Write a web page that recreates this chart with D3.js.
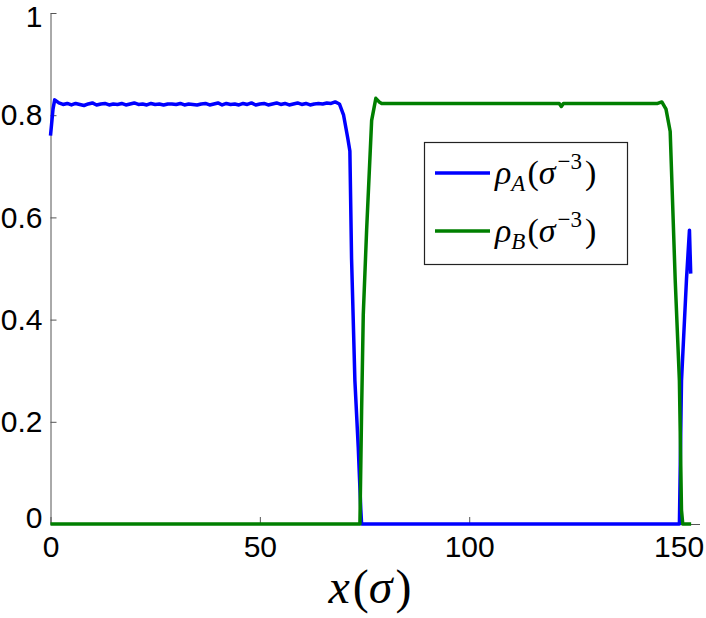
<!DOCTYPE html>
<meta charset="utf-8">
<style>
    body { margin: 0; background: #fff; }
    .tick text { font-family: "Liberation Sans", Arial, sans-serif; font-size: 30px; fill: #000; }
    .math { font-family: "Liberation Serif", "DejaVu Serif", serif; fill: #000; }
</style>
<svg width="706" height="618"></svg>
<script src="https://d3js.org/d3.v7.min.js"></script>
<script>

    var plateauA = [0.824, 0.821, 0.823, 0.820, 0.823, 0.821, 0.819, 0.822, 0.824, 0.820,
        0.822, 0.823, 0.820, 0.822, 0.821, 0.823, 0.820, 0.822, 0.824, 0.821,
        0.822, 0.820, 0.823, 0.821, 0.822, 0.820, 0.822, 0.822, 0.821, 0.823,
        0.820, 0.822, 0.821, 0.820, 0.822, 0.823, 0.820, 0.822, 0.824, 0.820,
        0.823, 0.821, 0.822, 0.820, 0.823, 0.821, 0.824, 0.820, 0.822, 0.823,
        0.820, 0.822, 0.824, 0.821, 0.823, 0.820, 0.822, 0.824, 0.821, 0.823,
        0.820, 0.822, 0.823, 0.822, 0.824, 0.823, 0.826];
    var rhoAx = [0, 0.6, 1].concat(d3.range(2, 69)).concat(
        [69, 70, 71, 71.5, 71.9, 72.7, 73.5, 74.1, 74.3, 150.2, 150.7, 151.9, 152.6, 152.9]);
    var rhoAy = [0.76, 0.812, 0.83].concat(plateauA).concat(
        [0.822, 0.80, 0.755, 0.73, 0.52, 0.28, 0.15, 0.03, 0, 0, 0.28, 0.48, 0.575, 0.49]);

    // rho_B(x)
    var rhoBx = [0, 73.9, 74.3, 74.7, 75.5, 76.7, 77.7, 78.5, 79.1, 121.5, 122, 122.5,
        145, 146, 147, 148, 149.2, 150.2, 150.7, 151, 153];
    var rhoBy = [0, 0, 0.22, 0.41, 0.575, 0.79, 0.833, 0.826, 0.823, 0.823, 0.817, 0.823,
        0.823, 0.826, 0.812, 0.768, 0.477, 0.28, 0.027, 0, 0];

    var xTicks = [0, 50, 100, 150];
    var yTicks = [0, 0.2, 0.4, 0.6, 0.8, 1];
    var legendLabels = ["A", "B"];
    var colors = ["#0000ff", "#007f00"];

    var svg = d3.select("svg");

    var x = d3.scaleLinear().domain([0, 155]).range([50.5, 699.5]);
    var y = d3.scaleLinear().domain([0, 1]).range([524, 13]);

    var xAxis = svg.append("g")
        .attr("transform", "translate(0,524)")
        .call(d3.axisBottom(x).tickValues(xTicks).tickFormat(d3.format("d"))
            .tickSizeInner(-7).tickSizeOuter(0).tickPadding(12));
    xAxis.selectAll("text").attr("dy", "0.71em");

    var yAxis = svg.append("g")
        .attr("transform", "translate(50.5,0)")
        .call(d3.axisLeft(y).tickValues(yTicks).tickFormat(function (d) { return d === 0 || d === 1 ? d : d.toFixed(1); })
            .tickSizeInner(-6).tickSizeOuter(0).tickPadding(8));

    svg.selectAll(".domain").attr("stroke", "#555");
    svg.selectAll(".tick line").attr("stroke", "#555");
    yAxis.selectAll(".tick text").filter(function (d) { return d === 0; }).attr("dy", "0.1em");
    yAxis.selectAll(".tick text").filter(function (d) { return d === 1; }).attr("dy", "0.45em");

    var line = d3.line().x(function (d) { return x(d[0]); }).y(function (d) { return y(d[1]); });

    var series = [d3.zip(rhoAx, rhoAy), d3.zip(rhoBx, rhoBy)];
    svg.selectAll(".series").data(series).enter().append("path")
        .attr("class", "series")
        .attr("fill", "none")
        .attr("stroke", function (d, i) { return colors[i]; })
        .attr("stroke-width", 3.5)
        .attr("stroke-linejoin", "round")
        .attr("d", line);

    // legend
    var legend = svg.append("g");
    legend.append("rect")
        .attr("x", 424.5).attr("y", 142.5).attr("width", 203).attr("height", 122)
        .attr("fill", "#fff").attr("stroke", "#222").attr("stroke-width", 1.2);

    var entry = legend.selectAll(".entry").data(legendLabels).enter().append("g")
        .attr("transform", function (d, i) { return "translate(0," + (173 + i * 58) + ")"; });
    entry.append("line")
        .attr("x1", 435).attr("x2", 490)
        .attr("stroke", function (d, i) { return colors[i]; })
        .attr("stroke-width", 3.5);
    var lt = entry.append("text").attr("class", "math").attr("x", 495).attr("y", 11)
        .style("font-size", "34px");
    lt.append("tspan").style("font-style", "italic").text("ρ");
    lt.append("tspan").style("font-style", "italic").style("font-size", "23px").attr("dy", 7).text(function (d) { return d; });
    lt.append("tspan").attr("dy", -7).attr("dx", 2).text("(");
    lt.append("tspan").style("font-style", "italic").text("σ");
    lt.append("tspan").style("font-size", "23px").attr("dy", -15).attr("dx", 2).text("−3");
    lt.append("tspan").attr("dy", 15).attr("dx", 3).text(")");

    // x-axis label
    var xl = svg.append("text").attr("class", "math")
        .attr("x", 370).attr("y", 603).attr("text-anchor", "middle")
        .style("font-size", "48px");
    xl.append("tspan").style("font-style", "italic").text("x");
    xl.append("tspan").attr("dx", 3).text("(");
    xl.append("tspan").style("font-style", "italic").text("σ");
    xl.append("tspan").attr("dx", 3).text(")");

</script>
